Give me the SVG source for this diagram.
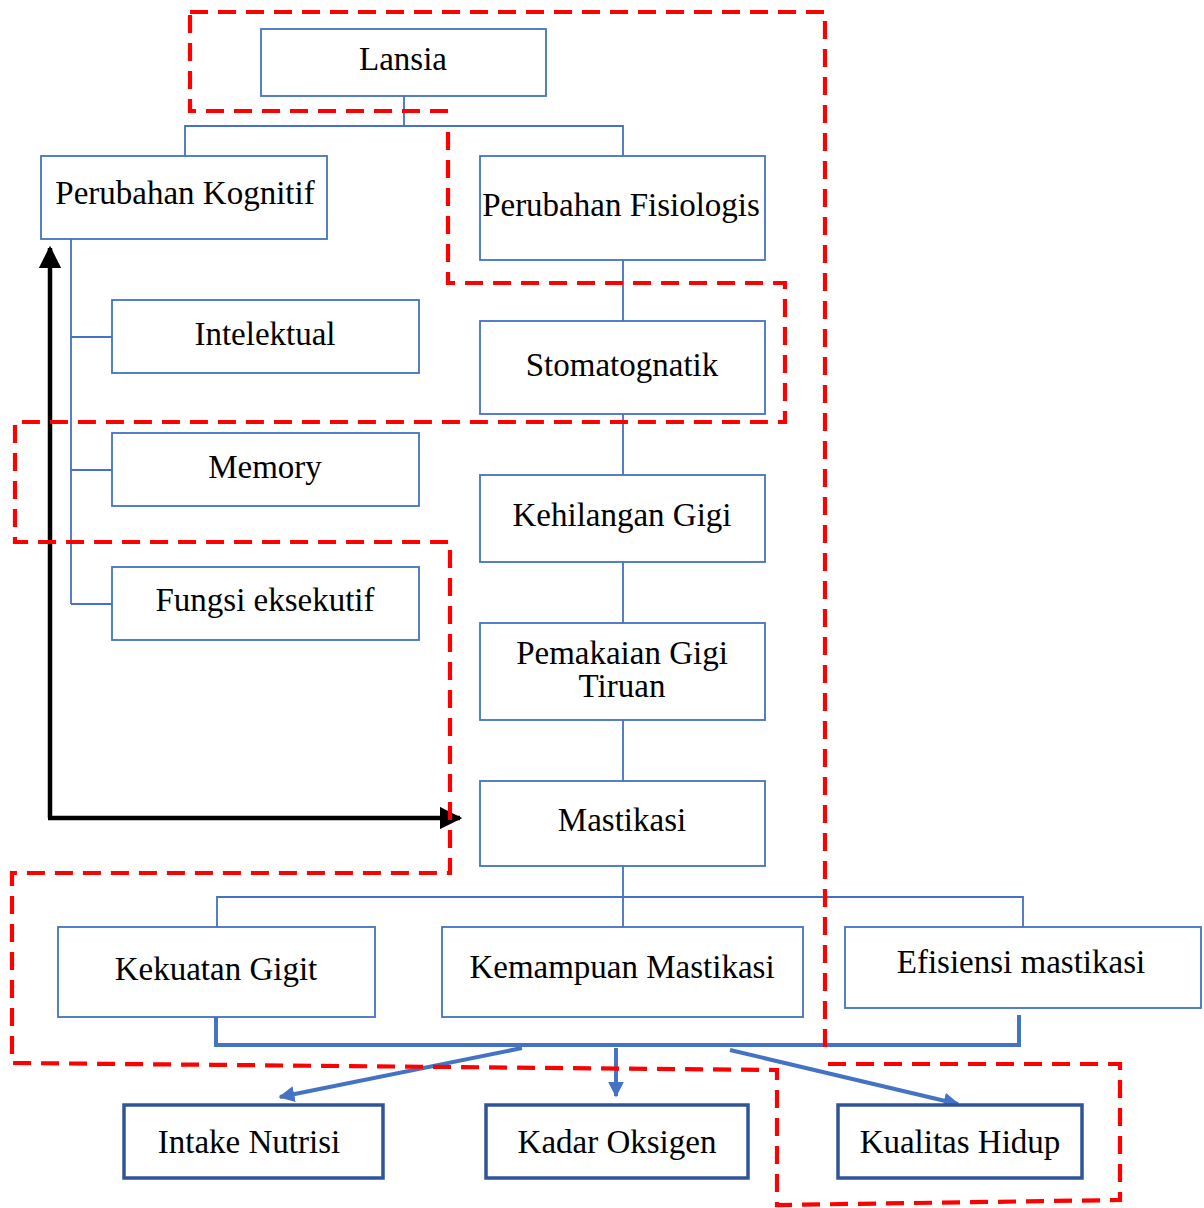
<svg xmlns="http://www.w3.org/2000/svg" width="1204" height="1208" viewBox="0 0 1204 1208">
<style>
.box{fill:#fff;stroke:#4472C4;stroke-width:1.8}
.obox{fill:#fff;stroke:#2F5597;stroke-width:3.5}
.t{font-family:"Liberation Serif","Times New Roman",serif;font-size:33px;fill:#000;text-anchor:middle}
.c{fill:none;stroke:#4472C4;stroke-width:1.8}
.ct{fill:none;stroke:#4472C4;stroke-width:4}
.dash{fill:none;stroke:#FF0000;stroke-width:4.2;stroke-dasharray:18 10}
</style>
<defs>
<marker id="ab" viewBox="0 0 10 10" refX="9" refY="5" markerWidth="4" markerHeight="4" orient="auto"><path d="M0,0 L10,5 L0,10 z" fill="#4472C4"/></marker>
<marker id="ak" viewBox="0 0 10 10" refX="9" refY="5" markerWidth="5" markerHeight="5" orient="auto"><path d="M0,0 L10,5 L0,10 z" fill="#000"/></marker>
</defs>
<rect width="1204" height="1208" fill="#fff"/>
<g id="connectors">
<path class="c" d="M404,96 V126 M185,156 V126 H623 V156"/>
<path class="c" d="M71,239 V604 M71,337 H112 M71,470 H112 M71,604 H112"/>
<path class="c" d="M623,260 V321 M623,414 V475 M623,562 V623 M623,720 V781"/>
<path class="c" d="M623,866 V897 M217,927 V897 H1023 V927 M623,897 V927"/>
<path class="ct" d="M216,1017 V1045 H1019 V1015"/>
<path class="ct" d="M522,1048 L280,1097" marker-end="url(#ab)"/>
<path class="ct" d="M616,1048 V1096" marker-end="url(#ab)"/>
<path class="ct" d="M730,1050 L958,1104" marker-end="url(#ab)"/>
<path fill="none" stroke="#000" stroke-width="4.5" d="M50,818 V248" marker-end="url(#ak)"/>
<path fill="none" stroke="#000" stroke-width="4.5" d="M48,818 H460" marker-end="url(#ak)"/>
</g>
<g id="n-lansia"><rect class="box" x="261" y="29" width="285" height="67"/><text class="t" x="403" y="70">Lansia</text></g>
<g id="n-kognitif"><rect class="box" x="41" y="156" width="286" height="83"/><text class="t" x="185" y="204">Perubahan Kognitif</text></g>
<g id="n-fisiologis"><rect class="box" x="480" y="156" width="285" height="104"/><text class="t" x="621" y="216">Perubahan Fisiologis</text></g>
<g id="n-intelektual"><rect class="box" x="112" y="300" width="307" height="73"/><text class="t" x="265" y="345">Intelektual</text></g>
<g id="n-memory"><rect class="box" x="112" y="433" width="307" height="73"/><text class="t" x="265" y="478">Memory</text></g>
<g id="n-fungsi"><rect class="box" x="112" y="567" width="307" height="73"/><text class="t" x="265" y="611">Fungsi eksekutif</text></g>
<g id="n-stomatognatik"><rect class="box" x="480" y="321" width="285" height="93"/><text class="t" x="622" y="376">Stomatognatik</text></g>
<g id="n-kehilangan"><rect class="box" x="480" y="475" width="285" height="87"/><text class="t" x="622" y="526">Kehilangan Gigi</text></g>
<g id="n-pemakaian"><rect class="box" x="480" y="623" width="285" height="97"/><text class="t" x="622" y="664">Pemakaian Gigi</text><text class="t" x="622" y="697">Tiruan</text></g>
<g id="n-mastikasi"><rect class="box" x="480" y="781" width="285" height="85"/><text class="t" x="622" y="831">Mastikasi</text></g>
<g id="n-kekuatan"><rect class="box" x="58" y="927" width="317" height="90"/><text class="t" x="216" y="980">Kekuatan Gigit</text></g>
<g id="n-kemampuan"><rect class="box" x="442" y="927" width="361" height="90"/><text class="t" x="622" y="978">Kemampuan Mastikasi</text></g>
<g id="n-efisiensi"><rect class="box" x="845" y="927" width="356" height="81"/><text class="t" x="1021" y="973">Efisiensi mastikasi</text></g>
<g id="n-intake"><rect class="obox" x="124" y="1105" width="259" height="73"/><text class="t" x="249" y="1153">Intake Nutrisi</text></g>
<g id="n-kadar"><rect class="obox" x="486" y="1105" width="262" height="73"/><text class="t" x="617" y="1153">Kadar Oksigen</text></g>
<g id="n-kualitas"><rect class="obox" x="838" y="1105" width="244" height="73"/><text class="t" x="960" y="1153">Kualitas Hidup</text></g>
<g id="boundary">
<path class="dash" d="M190,12 H825 V1047 M828,1064 H1120 V1200 L777,1205 V1070 L12,1063 V873 H450 V542 H15 V422 H785 V283 H448 V127 M448,111 H190 V12"/>
</g>
</svg>
